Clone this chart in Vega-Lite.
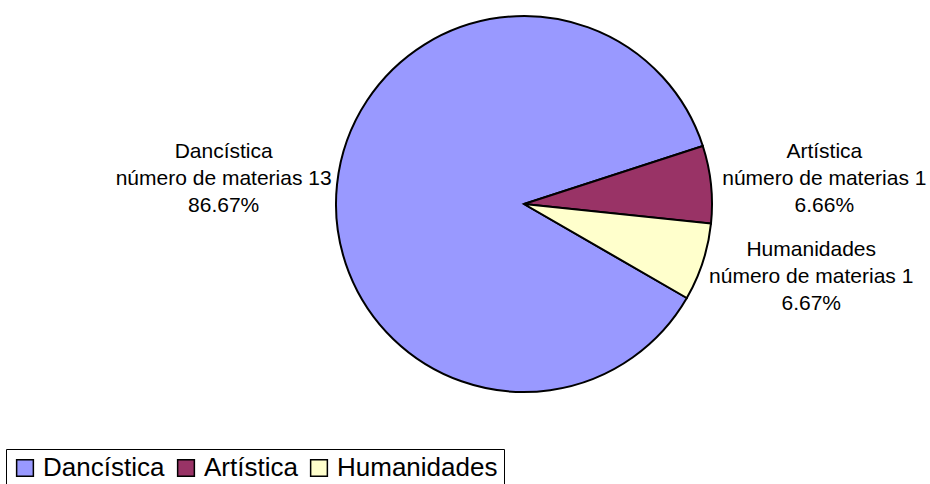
{
  "$schema": "https://vega.github.io/schema/vega-lite/v6.json",
  "autosize": "none",
  "width": 810,
  "height": 408,
  "padding": {"left": 119, "top": 0, "right": 1, "bottom": 76},
  "background": "white",
  "data": {
    "values": [
      {"categoria": "Dancística", "materias": 13, "porcentaje": 86.67, "orden": 1},
      {"categoria": "Artística", "materias": 1, "porcentaje": 6.66, "orden": 2},
      {"categoria": "Humanidades", "materias": 1, "porcentaje": 6.67, "orden": 3}
    ]
  },
  "transform": [
    {"calculate": "datum.categoria + '\\nnúmero de materias ' + datum.materias + '\\n' + format(datum.porcentaje, '.2f') + '%'", "as": "etiqueta"}
  ],
  "encoding": {
    "theta": {"field": "porcentaje", "type": "quantitative", "stack": true, "scale": {"range": [2.0944, 8.3776]}},
    "order": {"field": "orden", "type": "quantitative"}
  },
  "layer": [
    {
      "mark": {"type": "arc", "outerRadius": 188, "stroke": "black", "strokeWidth": 2},
      "encoding": {
        "color": {
          "field": "categoria",
          "type": "nominal",
          "sort": ["Dancística", "Artística", "Humanidades"],
          "scale": {"domain": ["Dancística", "Artística", "Humanidades"], "range": ["#9999FF", "#993366", "#FFFFCC"]},
          "legend": {
            "title": null,
            "orient": "none",
            "direction": "horizontal",
            "columns": 3,
            "legendX": -113,
            "legendY": 449,
            "symbolType": "square",
            "symbolSize": 280,
            "symbolStrokeColor": "black",
            "symbolStrokeWidth": 1.5,
            "symbolOpacity": 1,
            "labelFont": "Liberation Sans",
            "labelFontSize": 26,
            "labelColor": "black",
            "labelLimit": 400,
            "labelOffset": 5,
            "columnPadding": 8,
            "padding": 6,
            "strokeColor": "black",
            "fillColor": "white"
          }
        }
      }
    },
    {
      "mark": {"type": "text", "radius": 302, "dy": {"expr": "datum.categoria == 'Humanidades' ? -47 : -20"}, "font": "Liberation Sans", "fontSize": 21, "lineHeight": 27, "lineBreak": "\n", "align": "center", "baseline": "middle", "color": "black"},
      "encoding": {
        "text": {"field": "etiqueta", "type": "nominal"}
      }
    }
  ],
  "config": {"view": {"stroke": null}}
}
